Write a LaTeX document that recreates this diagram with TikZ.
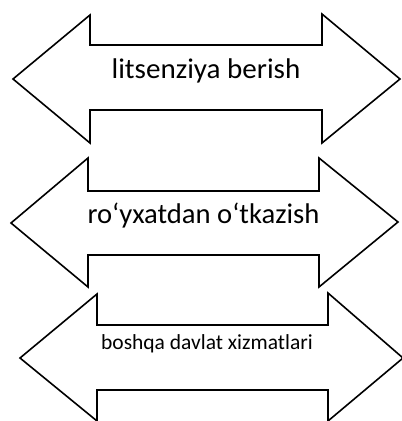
\documentclass[tikz,border=0pt]{standalone}
\usepackage{fontspec}
\newfontfamily\labelfont{Carlito}
\usepackage{graphicx}
\begin{document}
\begin{tikzpicture}[x=1pt,y=-1pt,
  dblarrow/.style={draw=black,line width=1.6pt,line join=miter,fill=white},
  lbl/.style={anchor=base,inner sep=0pt,text=black}]
\useasboundingbox (0,0) rectangle (402,421);
\fill[white] (0,0) rectangle (402,421);

% top double arrow
\draw[dblarrow] (13,79) -- (90,15) -- (90,45) -- (322,45) -- (322,14) -- (400,79)
  -- (322,143) -- (322,110) -- (90,110) -- (90,143) -- cycle;
\node[lbl] (t1) at (206,78) {\scalebox{1.02}[1]{\labelfont\fontsize{28.5}{32}\selectfont litsenziya berish}};

% middle double arrow
\draw[dblarrow] (11,223) -- (88,158) -- (88,191) -- (319,191) -- (319,158) -- (398,222)
  -- (319,287) -- (319,255) -- (88,255) -- (88,287) -- cycle;
\node[lbl] (t2) at (203.5,223) {\scalebox{1.005}[1]{\labelfont\fontsize{28.5}{32}\selectfont ro‘yxatdan o‘tkazish}};

% bottom double arrow
\draw[dblarrow] (20,358) -- (97,294) -- (97,325) -- (328,325) -- (328,293) -- (403,358)
  -- (328,421) -- (328,390) -- (97,390) -- (97,421) -- cycle;
\node[lbl] (t3) at (207,349) {\labelfont\fontsize{21.5}{25}\selectfont boshqa davlat xizmatlari};
\end{tikzpicture}
\end{document}
